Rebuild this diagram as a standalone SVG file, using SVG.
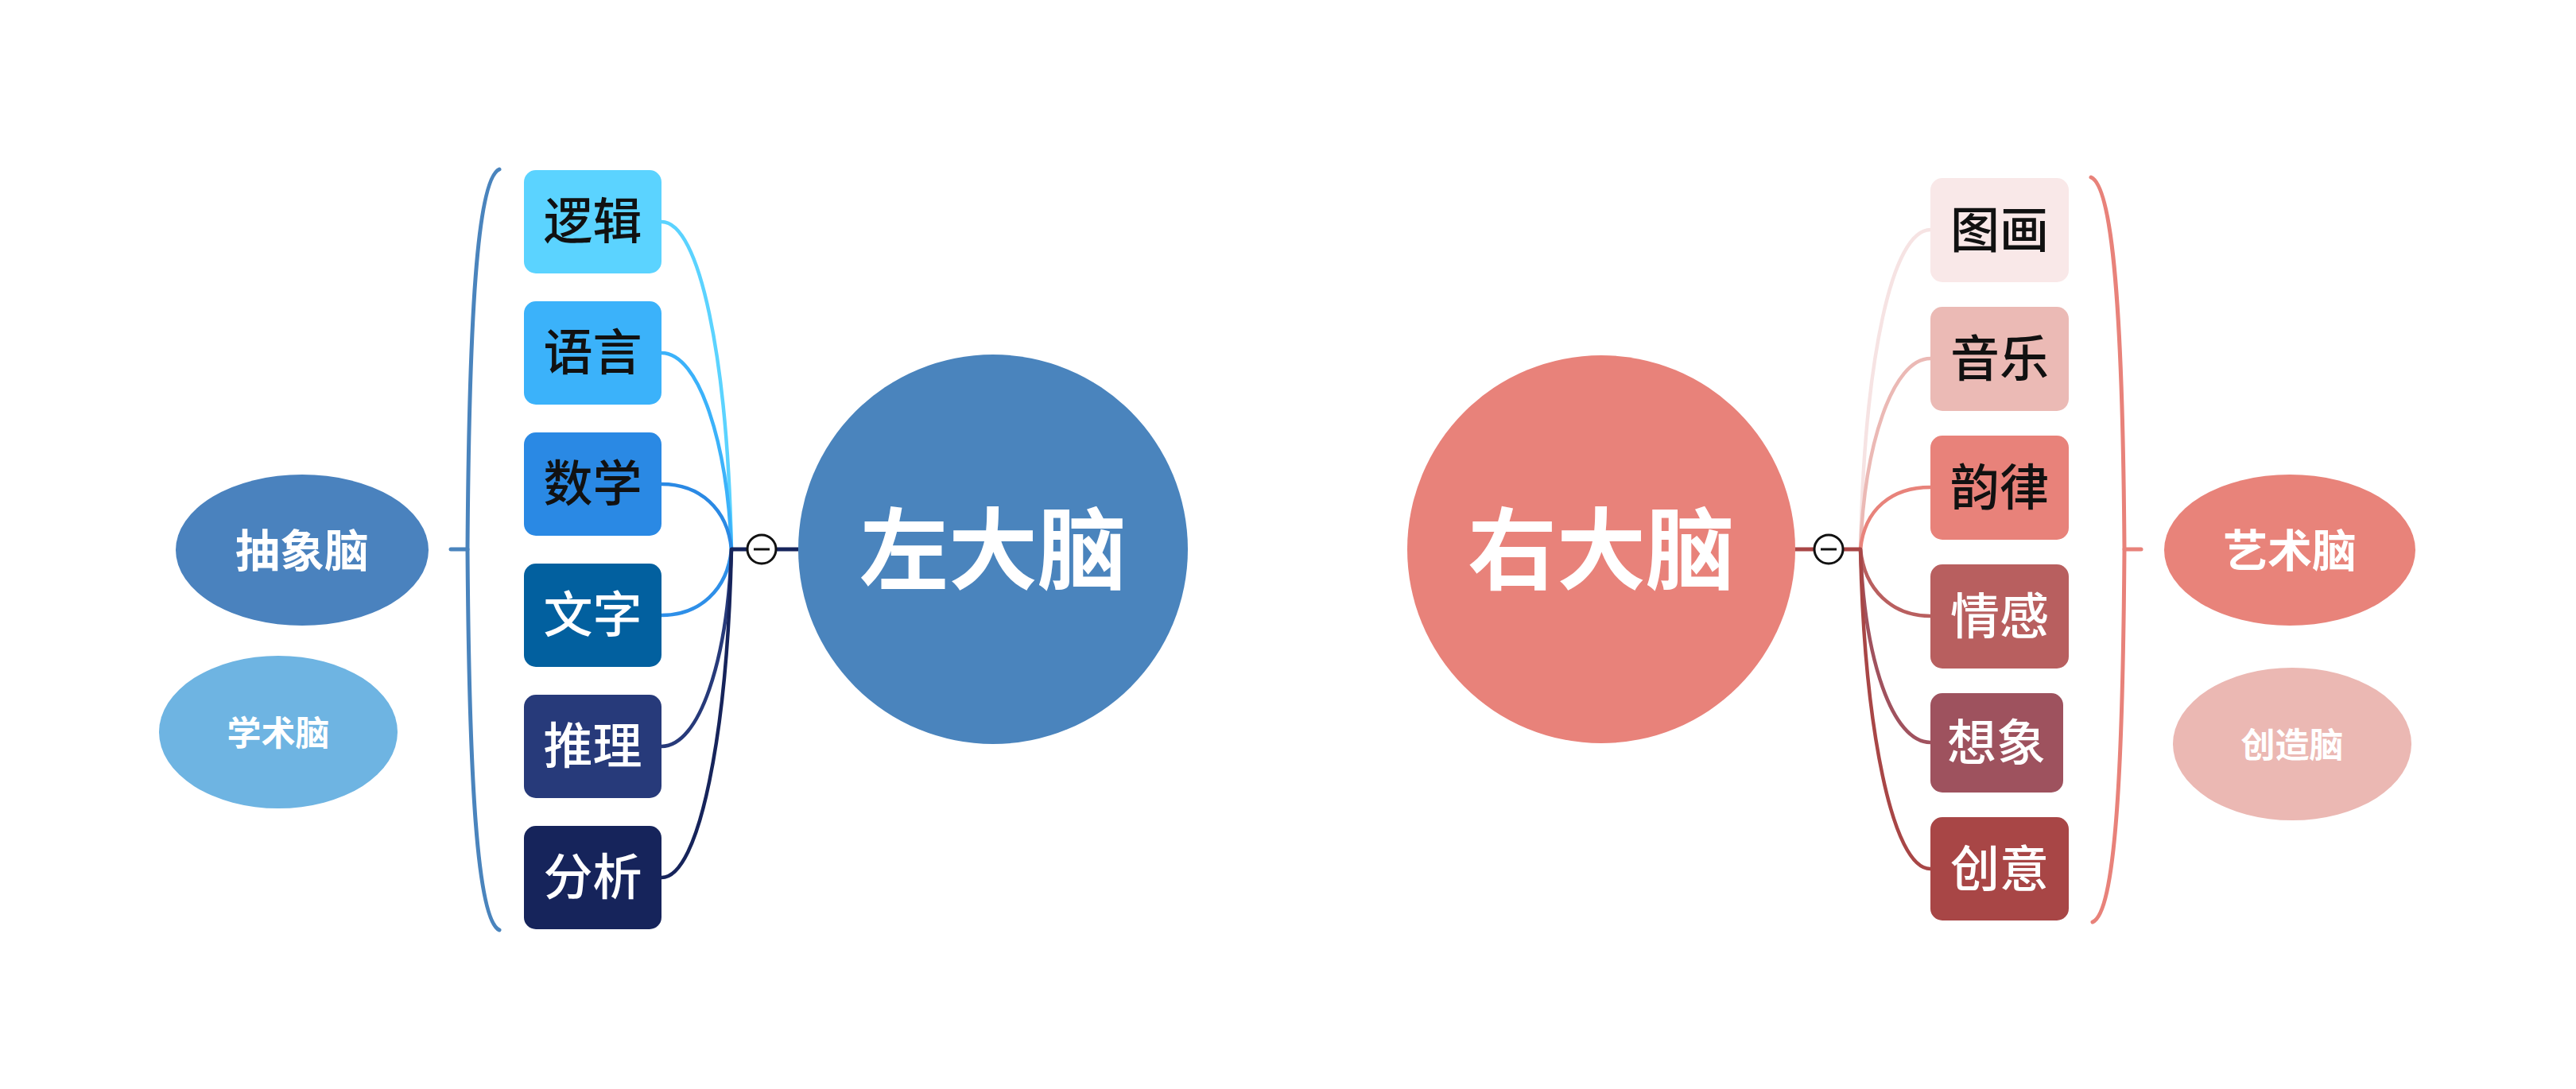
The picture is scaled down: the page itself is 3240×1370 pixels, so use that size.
<svg xmlns="http://www.w3.org/2000/svg" width="3240" height="1370" viewBox="0 0 3240 1370">
<style>
.t{font-family:"Noto Sans CJK SC","Noto Sans",sans-serif;text-anchor:middle}
.box{font-size:62px;font-weight:500}
.big{font-size:112px;font-weight:600;fill:#fff}
.ell{font-weight:bold;fill:#fff}
.dk{fill:#111}
.wt{fill:#fff}
.c{fill:none;stroke-width:4.5;stroke-linecap:round}
.br{fill:none;stroke-width:5;stroke-linecap:round}
.tog{fill:#fff;stroke:#111;stroke-width:3}
</style>
<rect width="3240" height="1370" fill="#fff"/>

<g id="connectors">
  <path class="br" stroke="#4A84BD" d="M628 213 C600 225 590 400 588 691 C590 980 600 1157 628 1170"/>
  <line class="br" stroke="#4A84BD" x1="567" y1="691" x2="588" y2="691"/>
  <path class="c" stroke="#5BD3FF" d="M832 279 C880 279 915 450 920 691"/>
  <path class="c" stroke="#3BB2FA" d="M832 444 C880 444 915 560 920 691"/>
  <path class="c" stroke="#2A89E4" d="M832 609 C880 609 915 640 920 691"/>
  <path class="c" stroke="#2E8FE8" d="M832 774 C880 774 915 742 920 691"/>
  <path class="c" stroke="#273A7A" d="M832 939 C880 939 915 830 920 691"/>
  <path class="c" stroke="#16245B" d="M832 1104 C880 1104 915 920 920 691"/>
  <line stroke="#16245B" stroke-width="5" x1="920" y1="691" x2="1004" y2="691"/>
  <circle class="tog" cx="958" cy="691" r="18"/>
  <line stroke="#111" stroke-width="3" x1="948" y1="691" x2="968" y2="691"/>

  <path class="br" stroke="#E8827A" d="M2630 223 C2658 235 2670 400 2672 691 C2670 980 2660 1148 2632 1160"/>
  <line class="br" stroke="#E8827A" x1="2672" y1="691" x2="2693" y2="691"/>
  <path class="c" stroke="#F6E3E3" d="M2428 289 C2380 289 2345 450 2340 691"/>
  <path class="c" stroke="#EBB9B5" d="M2428 451 C2380 451 2345 560 2340 691"/>
  <path class="c" stroke="#E8837B" d="M2428 613 C2380 613 2345 640 2340 691"/>
  <path class="c" stroke="#B95F5F" d="M2428 775 C2380 775 2345 742 2340 691"/>
  <path class="c" stroke="#A0525E" d="M2428 934 C2380 934 2345 830 2340 691"/>
  <path class="c" stroke="#A84646" d="M2428 1093 C2380 1093 2345 915 2340 691"/>
  <line stroke="#A84646" stroke-width="5" x1="2256" y1="691" x2="2340" y2="691"/>
  <circle class="tog" cx="2300" cy="691" r="18"/>
  <line stroke="#111" stroke-width="3" x1="2290" y1="691" x2="2310" y2="691"/>
</g>

<g id="left-brain">
  <circle cx="1249" cy="691" r="245" fill="#4A84BD"/>
  <text class="t big" x="1249" y="733">左大脑</text>
</g>
<g id="right-brain">
  <circle cx="2014" cy="691" r="244" fill="#E8827A"/>
  <text class="t big" x="2014" y="733">右大脑</text>
</g>

<g id="n-luoji"><rect x="659" y="214" width="173" height="130" rx="15" fill="#5BD3FF"/><text class="t box dk" x="745.5" y="301">逻辑</text></g>
<g id="n-yuyan"><rect x="659" y="379" width="173" height="130" rx="15" fill="#3BB2FA"/><text class="t box dk" x="745.5" y="466">语言</text></g>
<g id="n-shuxue"><rect x="659" y="544" width="173" height="130" rx="15" fill="#2A89E4"/><text class="t box dk" x="745.5" y="631">数学</text></g>
<g id="n-wenzi"><rect x="659" y="709" width="173" height="130" rx="15" fill="#02609F"/><text class="t box wt" x="745.5" y="796">文字</text></g>
<g id="n-tuili"><rect x="659" y="874" width="173" height="130" rx="15" fill="#273A7A"/><text class="t box wt" x="745.5" y="961">推理</text></g>
<g id="n-fenxi"><rect x="659" y="1039" width="173" height="130" rx="15" fill="#16245B"/><text class="t box wt" x="745.5" y="1126">分析</text></g>

<g id="n-tuhua"><rect x="2428" y="224" width="174" height="131" rx="15" fill="#F9E8E8"/><text class="t box dk" x="2515" y="312">图画</text></g>
<g id="n-yinyue"><rect x="2428" y="386" width="174" height="131" rx="15" fill="#EBBAB5"/><text class="t box dk" x="2515" y="474">音乐</text></g>
<g id="n-yunlv"><rect x="2428" y="548" width="174" height="131" rx="15" fill="#E8827A"/><text class="t box dk" x="2515" y="636">韵律</text></g>
<g id="n-qinggan"><rect x="2428" y="710" width="174" height="131" rx="15" fill="#B85F5F"/><text class="t box wt" x="2515" y="798">情感</text></g>
<g id="n-xiangxiang"><rect x="2428" y="872" width="167" height="125" rx="15" fill="#9E525E"/><text class="t box wt" x="2511" y="957">想象</text></g>
<g id="n-chuangyi"><rect x="2428" y="1028" width="174" height="130" rx="15" fill="#A84646"/><text class="t box wt" x="2515" y="1116">创意</text></g>

<g id="n-chouxiang"><ellipse cx="380" cy="692" rx="159" ry="95" fill="#4A82BE"/><text class="t ell" font-size="56" x="380" y="713">抽象脑</text></g>
<g id="n-xueshu"><ellipse cx="350" cy="921" rx="150" ry="96" fill="#6EB4E2"/><text class="t ell" font-size="43" x="350" y="938">学术脑</text></g>
<g id="n-yishu"><ellipse cx="2880" cy="692" rx="158" ry="95" fill="#E8837A"/><text class="t ell" font-size="56" x="2880" y="713">艺术脑</text></g>
<g id="n-chuangzao"><ellipse cx="2883" cy="936" rx="150" ry="96" fill="#EBB8B3"/><text class="t ell" font-size="43" x="2883" y="953">创造脑</text></g>
</svg>
